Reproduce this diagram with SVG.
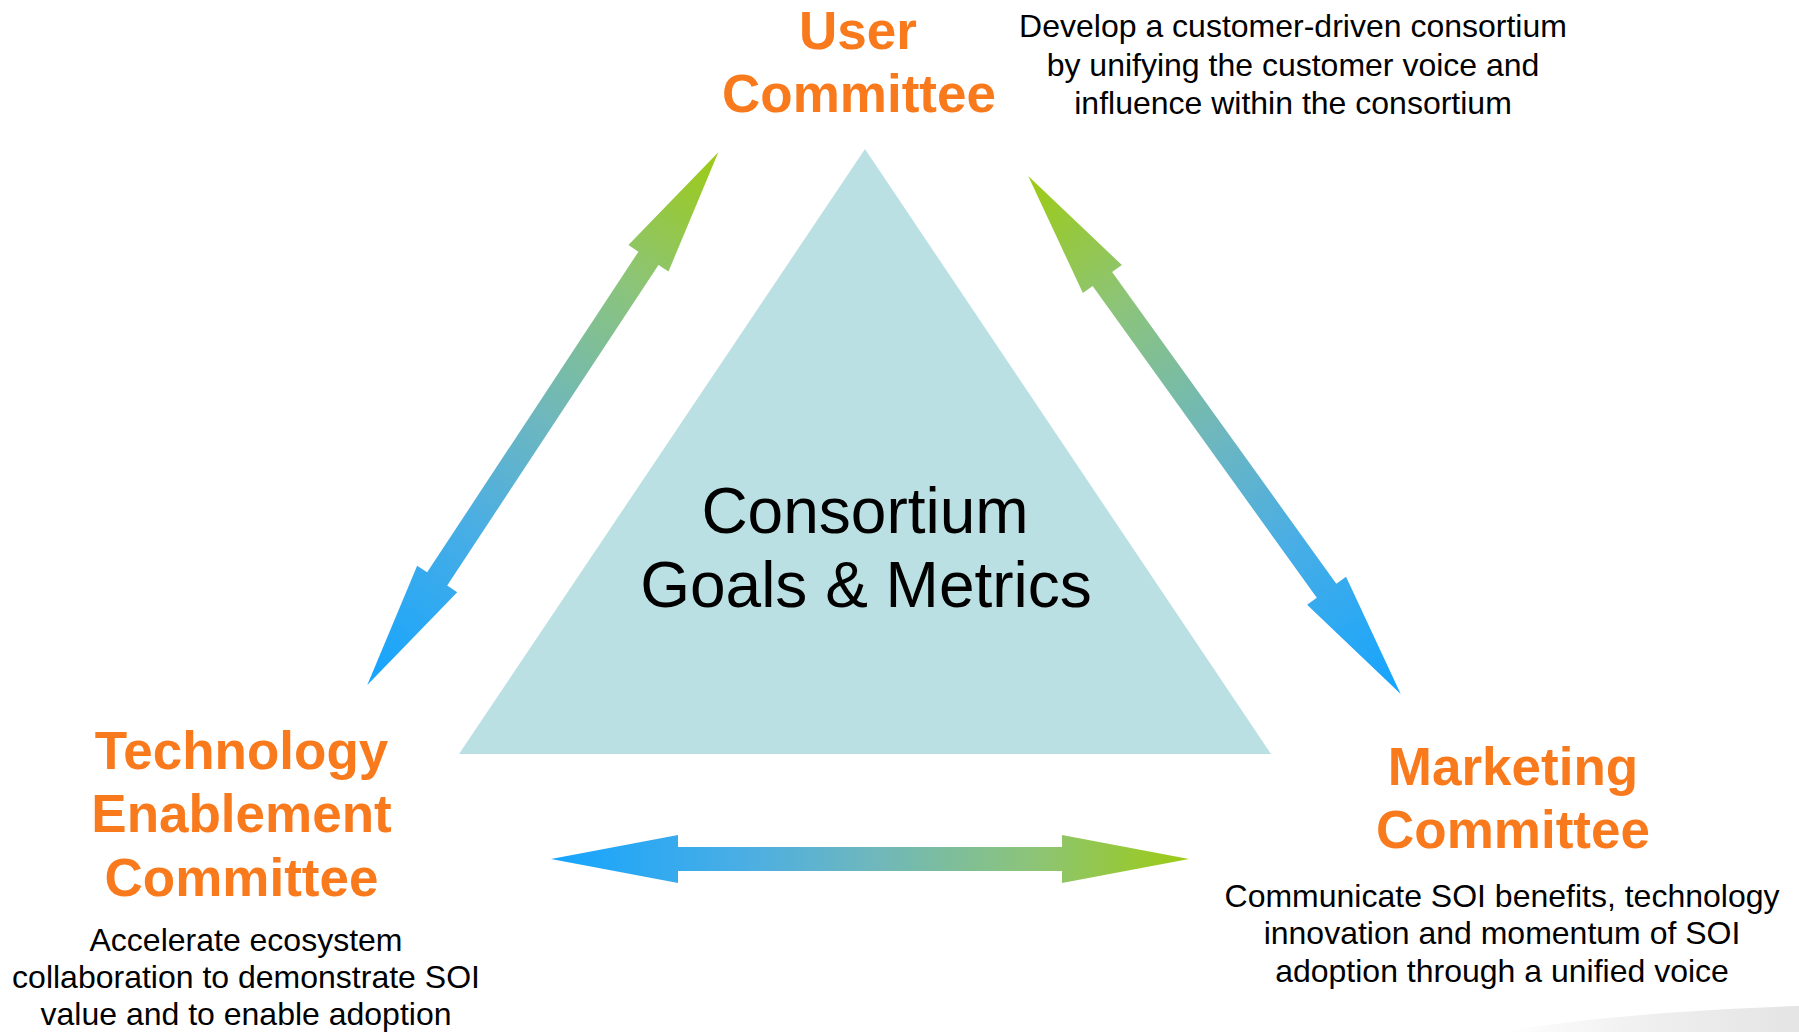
<svg xmlns="http://www.w3.org/2000/svg" width="1799" height="1032" viewBox="0 0 1799 1032">
  <style>
    .title { font-family: "Liberation Sans", Arial, sans-serif; font-weight: bold; font-size: 53px; fill: #F97A1C; text-anchor: middle; }
    .desc { font-family: "Liberation Sans", Arial, sans-serif; font-size: 32px; fill: #000000; text-anchor: middle; }
    .center { font-family: "Liberation Sans", Arial, sans-serif; font-size: 64px; fill: #000000; text-anchor: middle; }
    .arrow { fill: url(#arrowGrad); }
  </style>
  <defs>
    <linearGradient id="arrowGrad" x1="0" y1="0" x2="1" y2="0">
      <stop offset="0" stop-color="#14A4FF"/>
      <stop offset="0.3" stop-color="#4AAEE4"/>
      <stop offset="0.5" stop-color="#6EB7BE"/>
      <stop offset="0.75" stop-color="#8CC47A"/>
      <stop offset="1" stop-color="#9DCB12"/>
    </linearGradient>
    <linearGradient id="swooshGrad" x1="0" y1="0" x2="1" y2="0">
      <stop offset="0" stop-color="#FFFFFF"/>
      <stop offset="0.5" stop-color="#EFEFEF"/>
      <stop offset="1" stop-color="#E4E4E4"/>
    </linearGradient>
    <path id="dblArrow" d="M0,0 L127,-24 L127,-12 L511,-12 L511,-24 L638,0 L511,24 L511,12 L127,12 L127,24 Z"/>
  </defs>

  <rect width="1799" height="1032" fill="#FFFFFF"/>

  <path d="M1500,1032 Q1620,1012 1799,1006 L1799,1032 Z" fill="url(#swooshGrad)"/>

  <g id="node-center">
    <polygon points="865,149 1271,754 459,754" fill="#BBE0E3"/>
    <text class="center" x="865" y="533">Consortium</text>
    <text class="center" x="866" y="607">Goals &amp; Metrics</text>
  </g>

  <g id="connectors">
    <use href="#dblArrow" class="arrow" transform="translate(367.3,685) rotate(-56.62)"/>
    <use href="#dblArrow" class="arrow" transform="translate(1400.7,693.9) rotate(-125.72)"/>
    <use href="#dblArrow" class="arrow" transform="translate(551,859)"/>
  </g>

  <g id="node-user">
    <text class="title" x="858" y="48.5">User</text>
    <text class="title" x="859" y="112">Committee</text>
    <text class="desc" x="1293" y="37">Develop a customer-driven consortium</text>
    <text class="desc" x="1293" y="75.5">by unifying the customer voice and</text>
    <text class="desc" x="1293" y="113.5">influence within the consortium</text>
  </g>

  <g id="node-tech">
    <text class="title" x="241.5" y="769">Technology</text>
    <text class="title" x="241.5" y="832">Enablement</text>
    <text class="title" x="241.5" y="896">Committee</text>
    <text class="desc" x="246" y="950.5">Accelerate ecosystem</text>
    <text class="desc" x="246" y="987.5">collaboration to demonstrate SOI</text>
    <text class="desc" x="246" y="1024.5">value and to enable adoption</text>
  </g>

  <g id="node-marketing">
    <text class="title" x="1513" y="785">Marketing</text>
    <text class="title" x="1513" y="848">Committee</text>
    <text class="desc" x="1502" y="906.5">Communicate SOI benefits, technology</text>
    <text class="desc" x="1502" y="944">innovation and momentum of SOI</text>
    <text class="desc" x="1502" y="981.5">adoption through a unified voice</text>
  </g>
</svg>
